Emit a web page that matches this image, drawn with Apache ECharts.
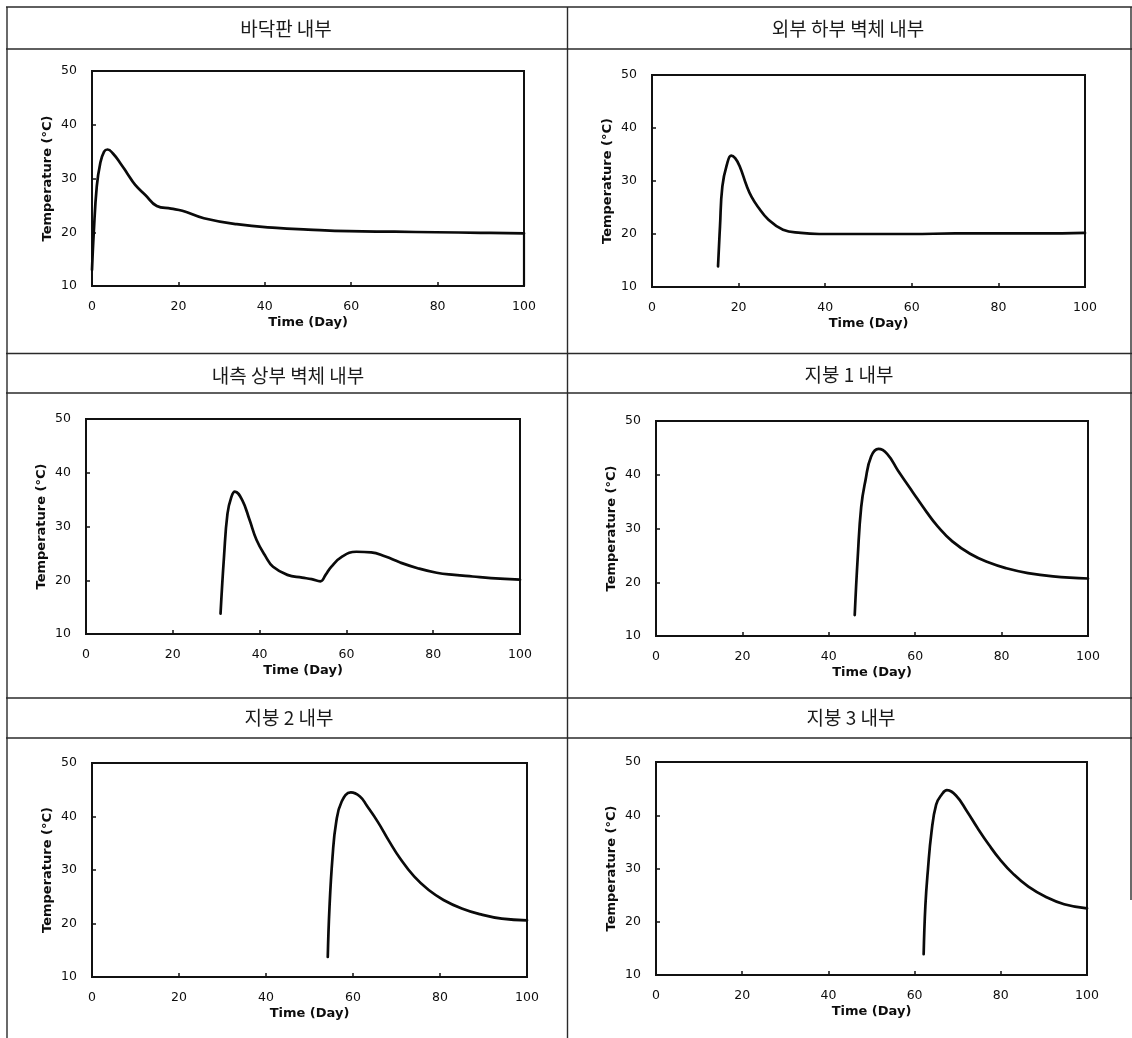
<!DOCTYPE html>
<html>
<head>
<meta charset="utf-8">
<script src="https://cdn.jsdelivr.net/npm/echarts@6/dist/echarts.min.js"></script>
<style>
  html, body { margin: 0; padding: 0; background: #fff; }
  #chart { width: 1132px; height: 1038px; }
</style>
</head>
<body>
<div id="chart"></div>
<script>
// Panel titles (one per measuring location)
const panelTitles = ['바닥판 내부', '외부 하부 벽체 내부', '내측 상부 벽체 내부', '지붕 1 내부', '지붕 2 내부', '지붕 3 내부'];

// Axis ticks
const dayTicks = [0, 20, 40, 60, 80, 100];
const tempTicks = [10, 20, 30, 40, 50];

// Temperature histories: elapsed day / temperature (°C)
const slabDays = [0, 0.4, 1.1, 1.9, 2.8, 3.6, 4.9, 6.6, 8.2, 10, 12.4, 15, 18.3, 20.9, 25.9, 33.5, 42.7, 50, 59.5, 70, 79.7, 90, 100];
const slabTemp = [13, 19.8, 28.5, 32.8, 35.0, 35.4, 34.6, 32.8, 30.9, 28.8, 26.9, 24.9, 24.4, 24.0, 22.6, 21.5, 20.8, 20.5, 20.2, 20.1, 20.0, 19.9, 19.8];

const outerWallDays = [15.25, 15.7, 16.25, 17.3, 18.3, 19.2, 20.25, 21.9, 23.0, 24.4, 26.9, 30.25, 34.4, 38.6, 50, 60, 70, 80, 90, 100];
const outerWallTemp = [13.9, 21.4, 29.0, 33.1, 34.8, 34.3, 32.8, 29.0, 27.0, 25.2, 22.7, 20.8, 20.2, 20.0, 20.0, 20.0, 20.1, 20.1, 20.1, 20.2];

const innerWallDays = [31.0, 31.8, 32.6, 33.5, 34.3, 36.0, 37.7, 39.3, 41.4, 43.1, 46.4, 49.8, 52.0, 54.0, 55.2, 56.5, 59.0, 62.3, 65.7, 69.0, 72.4, 76.6, 80.8, 84.9, 89.1, 93.3, 100];
const innerWallTemp = [13.8, 24.4, 32.4, 35.5, 36.5, 34.9, 31.2, 27.5, 24.4, 22.5, 21.0, 20.5, 20.2, 19.8, 21.0, 22.5, 24.4, 25.3, 25.2, 24.4, 23.3, 22.2, 21.4, 21.0, 20.7, 20.4, 20.1];

const roof1Days = [46.0, 46.7, 47.5, 48.5, 49.8, 51.5, 53.5, 56.0, 59.4, 62.7, 65.2, 68.6, 72.7, 76.9, 81.1, 86.1, 91.9, 100];
const roof1Temp = [13.9, 24.7, 34.0, 39.0, 43.4, 44.8, 43.9, 40.8, 36.8, 33.0, 30.4, 27.6, 25.3, 23.7, 22.6, 21.7, 21.1, 20.7];

const roof2Days = [54.2, 54.6, 55.3, 56.1, 57.4, 59.5, 61.6, 63.2, 65.7, 68.3, 70.8, 74.1, 77.4, 80.8, 85.0, 89.1, 94.2, 100];
const roof2Temp = [13.75, 23.1, 32.5, 38.75, 42.8, 44.5, 43.75, 42.0, 39.0, 35.4, 32.2, 28.75, 26.25, 24.4, 22.8, 21.75, 20.9, 20.6];

const roof3Days = [62.1, 62.5, 63.1, 63.9, 65.0, 66.3, 67.5, 69.6, 72.1, 74.6, 77.2, 79.7, 83.0, 86.4, 90.6, 94.7, 100];
const roof3Temp = [13.9, 23.0, 29.85, 36.7, 42.0, 43.9, 44.7, 43.7, 40.8, 37.6, 34.5, 31.8, 28.9, 26.6, 24.6, 23.3, 22.5];

const panelDays = [slabDays, outerWallDays, innerWallDays, roof1Days, roof2Days, roof3Days];
const panelTemps = [slabTemp, outerWallTemp, innerWallTemp, roof1Temp, roof2Temp, roof3Temp];

// Plot box of each panel (px) and centre of its header text
const grids = [
  { left: 92,  top: 71,  width: 432, height: 215 },
  { left: 652, top: 75,  width: 433, height: 212 },
  { left: 86,  top: 419, width: 434, height: 215 },
  { left: 656, top: 421, width: 432, height: 215 },
  { left: 92,  top: 763, width: 435, height: 214 },
  { left: 656, top: 762, width: 431, height: 213 }
];
const headerPos = [[286, 29], [848, 29], [288, 376], [849, 375], [289, 718], [851, 718]];

const chart = echarts.init(document.getElementById('chart'), null, { renderer: 'canvas' });

const tickFont = { fontFamily: 'DejaVu Sans', fontSize: 12.5, color: '#0d0d0d' };
const nameFont = { fontFamily: 'DejaVu Sans', fontSize: 13, fontWeight: 'bold', color: '#0d0d0d' };

const xAxes = [], yAxes = [], series = [];
grids.forEach(function (g, i) {
  xAxes.push({
    gridIndex: i, type: 'value',
    min: dayTicks[0], max: dayTicks[dayTicks.length - 1], interval: dayTicks[1] - dayTicks[0],
    name: 'Time (Day)', nameLocation: 'middle', nameGap: 30, nameTextStyle: nameFont,
    axisLine: { show: false },
    axisTick: { show: true, inside: true, length: 4, lineStyle: { color: '#111', width: 1.5 } },
    axisLabel: Object.assign({ margin: 14 }, tickFont),
    splitLine: { show: false }
  });
  yAxes.push({
    gridIndex: i, type: 'value',
    min: tempTicks[0], max: tempTicks[tempTicks.length - 1], interval: tempTicks[1] - tempTicks[0],
    name: 'Temperature (°C)', nameLocation: 'middle', nameGap: 38, nameTextStyle: nameFont,
    axisLine: { show: false },
    axisTick: { show: true, inside: true, length: 4, lineStyle: { color: '#111', width: 1.5 } },
    axisLabel: Object.assign({ margin: 15 }, tickFont),
    splitLine: { show: false }
  });
  const days = panelDays[i], temps = panelTemps[i];
  series.push({
    type: 'line', xAxisIndex: i, yAxisIndex: i,
    data: days.map(function (d, k) { return [d, temps[k]]; }),
    showSymbol: false, smooth: 0.45,
    lineStyle: { color: '#0a0a0a', width: 2.7, join: 'round', cap: 'round' },
    clip: true, silent: true
  });
});

// the floor slab record closes with a drop back to the axis at day 100
series.push({
  type: 'line', xAxisIndex: 0, yAxisIndex: 0,
  data: [[100, slabTemp[slabTemp.length - 1]], [100, tempTicks[0]]],
  showSymbol: false, lineStyle: { color: '#0a0a0a', width: 2.2 }, silent: true
});

// table frame around the six panels
const lineStyle = { stroke: '#2a2a2a', lineWidth: 1.4 };
function hLine(y, x1, x2) { return { type: 'line', shape: { x1: x1, y1: y, x2: x2, y2: y }, style: lineStyle, silent: true }; }
function vLine(x, y1, y2) { return { type: 'line', shape: { x1: x, y1: y1, x2: x, y2: y2 }, style: lineStyle, silent: true }; }

const graphics = [
  hLine(7, 6, 1132), hLine(49, 6, 1132),
  hLine(353.5, 6, 1132), hLine(393, 6, 1132),
  hLine(698, 6, 1132), hLine(738, 6, 1132),
  vLine(7, 7, 1038), vLine(567.5, 7, 1038), vLine(1131, 7, 900)
];
panelTitles.forEach(function (t, i) {
  graphics.push({
    type: 'text', silent: true,
    style: {
      text: t, x: headerPos[i][0], y: headerPos[i][1],
      textAlign: 'center', textVerticalAlign: 'middle',
      font: '19px "Noto Sans CJK KR"', fill: '#1a1a1a'
    }
  });
});

chart.setOption({
  backgroundColor: '#ffffff',
  animation: false,
  grid: grids.map(function (g) {
    return Object.assign({ show: true, borderColor: '#111', borderWidth: 2, backgroundColor: 'transparent', containLabel: false }, g);
  }),
  xAxis: xAxes,
  yAxis: yAxes,
  series: series,
  graphic: graphics
});
</script>
</body>
</html>
